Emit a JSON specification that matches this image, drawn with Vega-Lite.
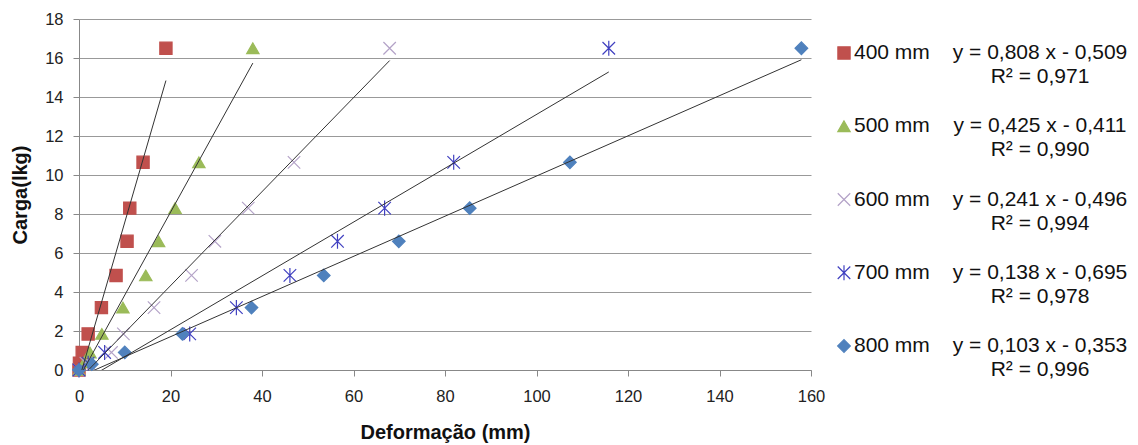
{
  "$schema": "https://vega.github.io/schema/vega-lite/v6.json",
  "background": "white",
  "padding": {"left": 10, "top": 11, "right": 0, "bottom": 0},
  "spacing": 26,
  "bounds": "flush",
  "config": {
    "font": "Liberation Sans",
    "view": {"stroke": null},
    "axis": {"labelColor": "#222", "titleColor": "#111", "domainColor": "#888", "tickColor": "#888", "gridColor": "#999"}
  },
  "datasets": {
    "pts": [
      {"serie": "400 mm", "deformacao": 0, "carga": 0},
      {"serie": "400 mm", "deformacao": 0.1, "carga": 0.35},
      {"serie": "400 mm", "deformacao": 0.7, "carga": 0.9},
      {"serie": "400 mm", "deformacao": 2.0, "carga": 1.85},
      {"serie": "400 mm", "deformacao": 4.9, "carga": 3.2},
      {"serie": "400 mm", "deformacao": 8.1, "carga": 4.85},
      {"serie": "400 mm", "deformacao": 10.5, "carga": 6.6},
      {"serie": "400 mm", "deformacao": 11.1, "carga": 8.3},
      {"serie": "400 mm", "deformacao": 14.0, "carga": 10.65},
      {"serie": "400 mm", "deformacao": 19.0, "carga": 16.5},
      {"serie": "500 mm", "deformacao": 0, "carga": 0},
      {"serie": "500 mm", "deformacao": 1.2, "carga": 0.4},
      {"serie": "500 mm", "deformacao": 2.4, "carga": 0.9},
      {"serie": "500 mm", "deformacao": 5.0, "carga": 1.85},
      {"serie": "500 mm", "deformacao": 9.6, "carga": 3.2},
      {"serie": "500 mm", "deformacao": 14.6, "carga": 4.85},
      {"serie": "500 mm", "deformacao": 17.4, "carga": 6.6},
      {"serie": "500 mm", "deformacao": 21.0, "carga": 8.3},
      {"serie": "500 mm", "deformacao": 26.2, "carga": 10.65},
      {"serie": "500 mm", "deformacao": 38.0, "carga": 16.5},
      {"serie": "600 mm", "deformacao": 0, "carga": 0},
      {"serie": "600 mm", "deformacao": 1.5, "carga": 0.35},
      {"serie": "600 mm", "deformacao": 7.1, "carga": 0.9},
      {"serie": "600 mm", "deformacao": 9.7, "carga": 1.85},
      {"serie": "600 mm", "deformacao": 16.4, "carga": 3.2},
      {"serie": "600 mm", "deformacao": 24.6, "carga": 4.85},
      {"serie": "600 mm", "deformacao": 29.7, "carga": 6.6},
      {"serie": "600 mm", "deformacao": 37.0, "carga": 8.3},
      {"serie": "600 mm", "deformacao": 47.0, "carga": 10.65},
      {"serie": "600 mm", "deformacao": 67.9, "carga": 16.5},
      {"serie": "700 mm", "deformacao": 0, "carga": 0},
      {"serie": "700 mm", "deformacao": 2.0, "carga": 0.35},
      {"serie": "700 mm", "deformacao": 5.6, "carga": 0.9},
      {"serie": "700 mm", "deformacao": 24.2, "carga": 1.85},
      {"serie": "700 mm", "deformacao": 34.4, "carga": 3.2},
      {"serie": "700 mm", "deformacao": 46.1, "carga": 4.85},
      {"serie": "700 mm", "deformacao": 56.5, "carga": 6.6},
      {"serie": "700 mm", "deformacao": 66.8, "carga": 8.3},
      {"serie": "700 mm", "deformacao": 81.9, "carga": 10.65},
      {"serie": "700 mm", "deformacao": 115.8, "carga": 16.5},
      {"serie": "800 mm", "deformacao": 0, "carga": 0},
      {"serie": "800 mm", "deformacao": 2.8, "carga": 0.3},
      {"serie": "800 mm", "deformacao": 10.0, "carga": 0.9},
      {"serie": "800 mm", "deformacao": 22.6, "carga": 1.85},
      {"serie": "800 mm", "deformacao": 37.7, "carga": 3.2},
      {"serie": "800 mm", "deformacao": 53.5, "carga": 4.85},
      {"serie": "800 mm", "deformacao": 69.9, "carga": 6.6},
      {"serie": "800 mm", "deformacao": 85.4, "carga": 8.3},
      {"serie": "800 mm", "deformacao": 107.3, "carga": 10.65},
      {"serie": "800 mm", "deformacao": 157.9, "carga": 16.5}
    ],
    "trend": [
      {"serie": "400 mm", "deformacao": 0, "carga": -0.509},
      {"serie": "400 mm", "deformacao": 19.0, "carga": 14.843},
      {"serie": "500 mm", "deformacao": 0, "carga": -0.411},
      {"serie": "500 mm", "deformacao": 38.0, "carga": 15.739},
      {"serie": "600 mm", "deformacao": 0, "carga": -0.496},
      {"serie": "600 mm", "deformacao": 67.9, "carga": 15.868},
      {"serie": "700 mm", "deformacao": 0, "carga": -0.695},
      {"serie": "700 mm", "deformacao": 115.8, "carga": 15.285},
      {"serie": "800 mm", "deformacao": 0, "carga": -0.353},
      {"serie": "800 mm", "deformacao": 157.9, "carga": 15.911}
    ],
    "leg": [
      {"serie": "400 mm", "eq": "y = 0,808 x - 0,509", "r2": "R² = 0,971"},
      {"serie": "500 mm", "eq": "y = 0,425 x - 0,411", "r2": "R² = 0,990"},
      {"serie": "600 mm", "eq": "y = 0,241 x - 0,496", "r2": "R² = 0,994"},
      {"serie": "700 mm", "eq": "y = 0,138 x - 0,695", "r2": "R² = 0,978"},
      {"serie": "800 mm", "eq": "y = 0,103 x - 0,353", "r2": "R² = 0,996"}
    ]
  },
  "hconcat": [
    {
      "width": 732,
      "height": 351,
      "layer": [
        {
          "data": {"name": "pts"},
          "mark": {"type": "point", "filled": true, "opacity": 1, "strokeWidth": 1.2},
          "encoding": {
            "x": {"field": "deformacao", "type": "quantitative",
              "scale": {"domain": [0, 160], "nice": false},
              "axis": {"values": [0, 20, 40, 60, 80, 100, 120, 140, 160], "tickCount": 20, "grid": false, "title": "Deformação (mm)",
                "titleFontSize": 20, "titleFontWeight": "bold", "titlePadding": 18,
                "labelFontSize": 16.5, "labelPadding": 12, "labelFlush": false, "labelOverlap": false, "tickSize": 6}},
            "y": {"field": "carga", "type": "quantitative",
              "scale": {"domain": [0, 18], "nice": false},
              "axis": {"values": [0, 2, 4, 6, 8, 10, 12, 14, 16, 18], "tickCount": 20, "grid": true, "title": "Carga(lkg)",
                "titleFontSize": 20, "titleFontWeight": "bold", "titlePadding": 14,
                "labelFontSize": 16.5, "labelPadding": 10, "labelFlush": false, "labelOverlap": false, "tickSize": 6}},
            "shape": {"field": "serie", "type": "nominal",
              "scale": {"domain": ["400 mm", "500 mm", "600 mm", "700 mm", "800 mm"],
                "range": ["square", "triangle-up", "M-1,-1L1,1M-1,1L1,-1", "M-1,-1L1,1M-1,1L1,-1M0,-1.2L0,1.2", "diamond"]},
              "legend": null},
            "fill": {"field": "serie", "type": "nominal",
              "scale": {"domain": ["400 mm", "500 mm", "600 mm", "700 mm", "800 mm"],
                "range": ["#c0504d", "#9bbb59", "#b3a2c7", "#4040c0", "#4f81bd"]},
              "legend": null},
            "stroke": {"field": "serie", "type": "nominal",
              "scale": {"domain": ["400 mm", "500 mm", "600 mm", "700 mm", "800 mm"],
                "range": ["#c0504d", "#9bbb59", "#b3a2c7", "#4040c0", "#4f81bd"]},
              "legend": null},
            "size": {"field": "serie", "type": "nominal",
              "scale": {"domain": ["400 mm", "500 mm", "600 mm", "700 mm", "800 mm"],
                "range": [150, 160, 200, 190, 190]},
              "legend": null}
          }
        },
        {
          "data": {"name": "trend"},
          "mark": {"type": "line", "clip": true, "color": "#333", "strokeWidth": 1},
          "encoding": {
            "x": {"field": "deformacao", "type": "quantitative"},
            "y": {"field": "carga", "type": "quantitative"},
            "detail": {"field": "serie", "type": "nominal"}
          }
        }
      ]
    },
    {
      "width": 14,
      "height": 361,
      "data": {"name": "leg"},
      "mark": {"type": "point", "filled": true, "opacity": 1, "strokeWidth": 1.2},
      "encoding": {
        "y": {"field": "serie", "type": "ordinal", "scale": {"type": "point", "padding": 0.464}, "axis": null},
        "shape": {"field": "serie", "type": "nominal", "legend": null},
        "fill": {"field": "serie", "type": "nominal", "legend": null},
        "stroke": {"field": "serie", "type": "nominal", "legend": null},
        "size": {"field": "serie", "type": "nominal", "legend": null}
      }
    },
    {
      "width": 260,
      "height": 361,
      "data": {"name": "leg"},
      "encoding": {
        "y": {"field": "serie", "type": "ordinal", "scale": {"type": "point", "padding": 0.464}, "axis": null}
      },
      "layer": [
        {"mark": {"type": "text", "align": "left", "baseline": "middle", "dx": -153, "fontSize": 21, "color": "#111"},
          "encoding": {"text": {"field": "serie"}}},
        {"mark": {"type": "text", "align": "center", "baseline": "middle", "dx": 33, "fontSize": 21, "color": "#111"},
          "encoding": {"text": {"field": "eq"}}},
        {"mark": {"type": "text", "align": "center", "baseline": "middle", "dx": 33, "dy": 24, "fontSize": 21, "color": "#111"},
          "encoding": {"text": {"field": "r2"}}}
      ]
    }
  ]
}
